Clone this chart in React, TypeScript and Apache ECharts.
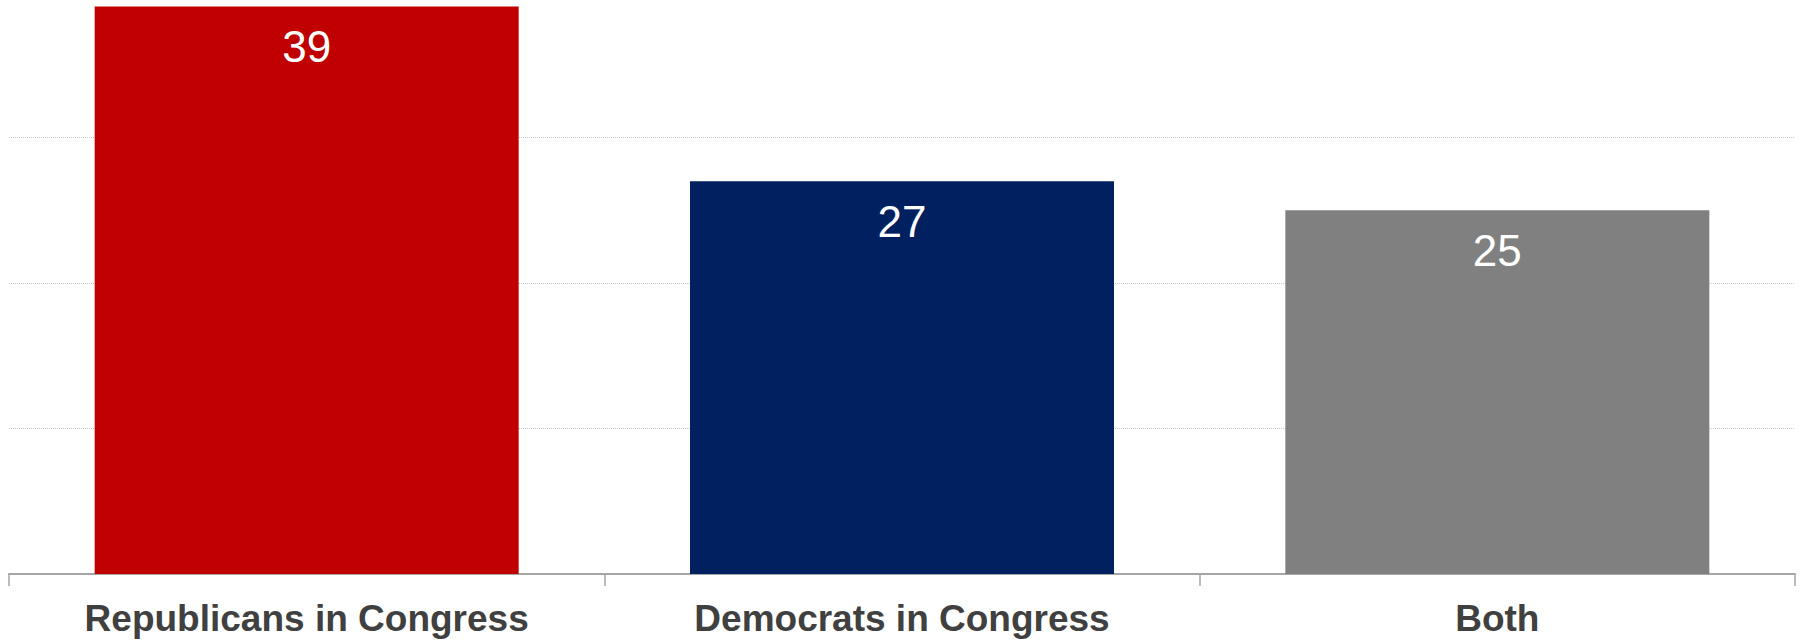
import React, { useEffect, useRef } from "react";
import * as echarts from "echarts";

const categories = ["Republicans in Congress", "Democrats in Congress", "Both"];
const values = [39, 27, 25];
const barColors = ["#C00000", "#002060", "#808080"];

export default function App() {
  const ref = useRef<HTMLDivElement>(null);
  useEffect(() => {
    document.body.style.margin = "0";
    document.body.style.overflow = "hidden";
    if (!ref.current) return;
    const chart = echarts.init(ref.current, null, { renderer: "svg" });
    chart.setOption({
      animation: false,
      backgroundColor: "#ffffff",
      grid: { left: 9, right: 10, top: 0, bottom: 66, containLabel: false },
      xAxis: {
        type: "category",
        data: categories,
        axisLine: { show: true, lineStyle: { color: "#a6a6a6", width: 2 } },
        axisTick: { show: true, length: 12, lineStyle: { color: "#a6a6a6", width: 1.5 } },
        axisLabel: {
          color: "#404040",
          fontFamily: "Liberation Sans, Arial, sans-serif",
          fontWeight: "bold",
          fontSize: 37,
          margin: 26,
        },
      },
      yAxis: {
        type: "value",
        min: 0,
        max: 40,
        interval: 10,
        axisLine: { show: false },
        axisTick: { show: false },
        axisLabel: { show: false },
        splitLine: { show: true, lineStyle: { color: "#c8c8c8", width: 1, type: "dotted" } },
      },
      series: [
        {
          type: "bar",
          barWidth: 424,
          data: values.map((v, i) => ({ value: v, itemStyle: { color: barColors[i] } })),
          label: {
            show: true,
            position: "insideTop",
            distance: 18,
            color: "#ffffff",
            fontFamily: "Liberation Sans, Arial, sans-serif",
            fontSize: 44,
          },
        },
      ],
    });
    return () => chart.dispose();
  }, []);
  return (
    <div
      ref={ref}
      style={{ position: "absolute", left: 0, top: -8, width: 1805, height: 648 }}
    />
  );
}
